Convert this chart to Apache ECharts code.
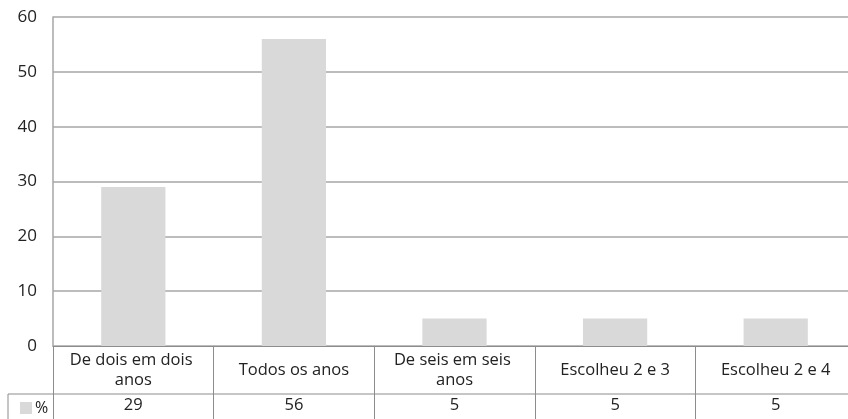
<!DOCTYPE html>
<html>
<head>
<meta charset="utf-8">
<script src="https://cdn.jsdelivr.net/npm/echarts@6/dist/echarts.min.js"></script>
<style>
  html, body { margin: 0; padding: 0; background: #fff; overflow: hidden; }
  #chart { width: 848px; height: 419px; }
</style>
</head>
<body>
<div id="chart"></div>
<script>
// dados
var categorias = ['De dois em dois anos', 'Todos os anos', 'De seis em seis anos', 'Escolheu 2 e 3', 'Escolheu 2 e 4'];
var valores = [29, 56, 5, 5, 5];
var serieNome = '%';
var yTicks = [0, 10, 20, 30, 40, 50, 60];

var fonte = 'Open Sans';
var corLinha = '#a6a6a6';
var corTabela = '#8c8c8c';

var myChart = echarts.init(document.getElementById('chart'));
myChart.setOption({
  animation: false,
  textStyle: { fontFamily: fonte },
  grid: { left: 53, width: 803, top: 17, bottom: 73, containLabel: false, outerBoundsMode: 'none' },
  legend: {
    data: [serieNome],
    left: 15,
    top: 395,
    itemWidth: 12,
    itemHeight: 12,
    itemGap: 4,
    icon: 'rect',
    textStyle: { fontFamily: fonte, fontSize: 16, color: '#222', padding: [0, 0, 0, -2] }
  },
  xAxis: [
    {
      type: 'category',
      data: categorias,
      position: 'bottom',
      axisLine: { show: true, lineStyle: { color: corTabela, width: 1 } },
      axisTick: { show: true, length: 73, alignWithLabel: false, lineStyle: { color: corTabela, width: 1 } },
      axisLabel: {
        interval: 0,
        margin: 24,
        verticalAlign: 'middle',
        width: 150,
        overflow: 'break',
        lineHeight: 20,
        fontSize: 16.5,
        color: '#222',
        fontFamily: fonte
      }
    },
    {
      type: 'category',
      data: categorias,
      position: 'bottom',
      axisLine: { show: false },
      axisTick: { show: false },
      axisLabel: {
        interval: 0,
        margin: 59,
        verticalAlign: 'middle',
        fontSize: 16.5,
        color: '#222',
        fontFamily: fonte,
        formatter: function (v, i) { return String(valores[i]); }
      }
    }
  ],
  yAxis: {
    type: 'value',
    min: yTicks[0],
    max: yTicks[yTicks.length - 1],
    interval: 10,
    axisLine: { show: true, lineStyle: { color: corLinha, width: 1.5 } },
    axisTick: { show: false },
    axisLabel: { margin: 16, fontSize: 17, color: '#222', fontFamily: fonte },
    splitLine: { show: true, lineStyle: { color: corLinha, width: 1.5 } }
  },
  graphic: [
    { type: 'line', shape: { x1: 8, y1: 394, x2: 848, y2: 394 }, style: { stroke: corTabela, lineWidth: 1 } },
    { type: 'line', shape: { x1: 8, y1: 394, x2: 8, y2: 419 }, style: { stroke: corTabela, lineWidth: 1 } }
  ],
  series: [
    {
      name: serieNome,
      type: 'bar',
      data: valores,
      barWidth: '40%',
      itemStyle: { color: '#d9d9d9' }
    }
  ]
});
</script>
</body>
</html>
